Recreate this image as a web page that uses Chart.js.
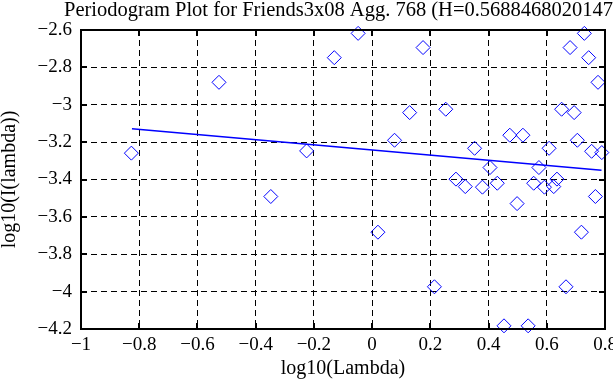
<!DOCTYPE html>
<html>
<head>
<meta charset="utf-8">
<script src="https://cdn.jsdelivr.net/npm/chart.js@4/dist/chart.umd.min.js"></script>
<style>
html,body{margin:0;padding:0;background:#fff;}
canvas{display:block;}
</style>
</head>
<body>
<canvas id="c" width="613" height="385"></canvas>
<script>
// ---- data ----
const titleText = 'Periodogram Plot for Friends3x08 Agg. 768 (H=0.568846802014708)';
const xAxisTitle = 'log10(Lambda)';
const yAxisTitle = 'log10(I(lambda))';

const logLambda = [
  -0.827, -0.526, -0.348, -0.225, -0.130, -0.048, 0.175, 0.729, 0.680, 0.744,
  0.776, 0.129, 0.253, 0.651, 0.694, 0.077, 0.473, 0.518, 0.705, 0.352,
  0.608, 0.754, 0.789, 0.405, 0.573, 0.288, 0.320, 0.379, 0.430, 0.555,
  0.592, 0.635, 0.624, 0.498, 0.767, 0.020, 0.719, 0.214, 0.666, 0.453,
  0.536
];
const logI = [
  -3.259, -2.880, -3.491, -3.247, -2.748, -2.618, -2.694, -2.618, -2.694, -2.748,
  -2.880, -3.042, -3.024, -3.024, -3.042, -3.190, -3.163, -3.163, -3.190, -3.233,
  -3.233, -3.249, -3.256, -3.336, -3.336, -3.398, -3.438, -3.441, -3.420, -3.420,
  -3.441, -3.398, -3.438, -3.529, -3.491, -3.682, -3.682, -3.974, -3.974, -4.183,
  -4.183
];
const fitX = [-0.825, 0.788];
const fitY = [-3.128, -3.350];

const xTickLabels = ['\u22121', '\u22120.8', '\u22120.6', '\u22120.4', '\u22120.2', '0', '0.2', '0.4', '0.6', '0.8'];
const yTickLabels = ['\u22124.2', '\u22124', '\u22123.8', '\u22123.6', '\u22123.4', '\u22123.2', '\u22123', '\u22122.8', '\u22122.6'];

const FONT = '"Liberation Serif", "Times New Roman", serif';

const framePlugin = {
  id: 'frame',
  afterDraw(chart) {
    const ctx = chart.ctx;
    const a = chart.chartArea;
    const xs = chart.scales.x, ys = chart.scales.y;
    ctx.save();
    ctx.strokeStyle = '#000';
    ctx.lineWidth = 2;
    ctx.setLineDash([]);
    const tl = 6;
    ctx.beginPath();
    xs.ticks.forEach(t => {
      const px = Math.round(xs.getPixelForValue(t.value));
      ctx.moveTo(px, a.bottom); ctx.lineTo(px, a.bottom - tl);
      ctx.moveTo(px, a.top); ctx.lineTo(px, a.top + tl);
    });
    ys.ticks.forEach(t => {
      const py = Math.round(ys.getPixelForValue(t.value));
      ctx.moveTo(a.left, py); ctx.lineTo(a.left + tl, py);
      ctx.moveTo(a.right, py); ctx.lineTo(a.right - tl, py);
    });
    ctx.stroke();
    ctx.strokeRect(a.left, a.top, a.right - a.left, a.bottom - a.top);
    // title
    ctx.fillStyle = '#000';
    ctx.font = '20.5px ' + FONT;
    ctx.textAlign = 'left';
    ctx.textBaseline = 'alphabetic';
    ctx.fillText(titleText, 64, 15.5);
    ctx.restore();
  }
};

new Chart(document.getElementById('c'), {
  type: 'scatter',
  data: {
    datasets: [
      {
        type: 'scatter',
        data: logLambda.map((x, i) => ({x: x, y: logI[i]})),
        pointStyle: 'rectRot',
        pointRadius: 7,
        pointBorderWidth: 1,
        borderColor: '#0000ff',
        backgroundColor: 'rgba(0,0,0,0)',
        clip: false
      },
      {
        type: 'line',
        data: fitX.map((x, i) => ({x: x, y: fitY[i]})),
        borderColor: '#0000ff',
        borderWidth: 1.5,
        pointRadius: 0,
        fill: false,
        tension: 0
      }
    ]
  },
  options: {
    responsive: false,
    animation: false,
    events: [],
    layout: {padding: {top: 30, right: 4.5, left: 0, bottom: 0}},
    plugins: {legend: {display: false}, tooltip: {enabled: false}, title: {display: false}},
    scales: {
      x: {
        type: 'linear',
        min: -1, max: 0.8,
        afterBuildTicks(s) { s.ticks = xTickLabels.map((_, i) => ({value: -1 + 0.2 * i})); },
        afterFit(s) { s.height = 56; s.paddingLeft = 0; s.paddingRight = 0; },
        border: {display: false, dash: [6, 4]},
        grid: {color: '#000', lineWidth: 1, drawTicks: false},
        ticks: {
          color: '#000', padding: 5, maxRotation: 0, autoSkip: false,
          font: {family: FONT, size: 19},
          callback: (v, i) => xTickLabels[i]
        },
        title: {display: true, text: xAxisTitle, color: '#000', font: {family: FONT, size: 20, lineHeight: 1}, padding: {top: 0, bottom: 6}}
      },
      y: {
        type: 'linear',
        min: -4.2, max: -2.6,
        afterBuildTicks(s) { s.ticks = yTickLabels.map((_, i) => ({value: -4.2 + 0.2 * i})); },
        afterFit(s) { s.width = 81; s.paddingTop = 0; s.paddingBottom = 0; },
        border: {display: false, dash: [6, 4]},
        grid: {color: '#000', lineWidth: 1, drawTicks: false},
        ticks: {
          color: '#000', padding: 9, autoSkip: false,
          font: {family: FONT, size: 19},
          callback: (v, i) => yTickLabels[i]
        },
        title: {display: true, text: yAxisTitle, color: '#000', font: {family: FONT, size: 20, lineHeight: 1}, padding: {top: 0, bottom: 0}}
      }
    }
  },
  plugins: [framePlugin]
});
</script>
</body>
</html>
